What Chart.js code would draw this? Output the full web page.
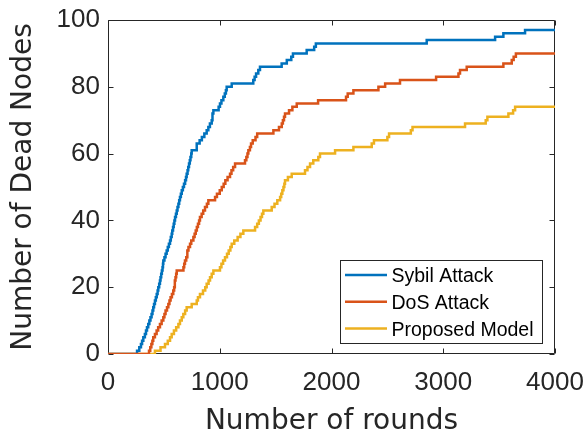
<!DOCTYPE html>
<html>
<head>
<meta charset="utf-8">
<script src="https://cdn.jsdelivr.net/npm/chart.js@4.4.1/dist/chart.umd.min.js"></script>
<style>
  html, body { margin: 0; padding: 0; background: #fff; }
  #wrap { width: 585px; height: 439px; }
</style>
</head>
<body>
<div id="wrap"><canvas id="c" width="585" height="439"></canvas></div>
<script>
// Series names and colours
const seriesLabels = ['Sybil Attack', 'DoS Attack', 'Proposed Model'];
const seriesColors = ['#0072BD', '#D95319', '#EDB120'];

// Axis ticks
const xTicks = [0, 1000, 2000, 3000, 4000];
const yTicks = [0, 20, 40, 60, 80, 100];

// Sybil attack: round at which the dead-node count changes, and the new count
const sybilRounds = [0,260,280,295,305,316,330,340,349,360,370,380,390,398,405,412,420,428,436,444,
  450,458,465,470,476,482,488,492,495,505,515,525,535,545,555,562,570,575,582,588,
  594,600,608,615,622,630,637,644,652,660,670,680,690,698,704,712,718,725,732,738,
  745,749,794,820,840,862,883,898,912,928,935,943,990,1002,1015,1032,1045,1055,1062,1107,
  1300,1312,1325,1345,1360,1554,1600,1640,1655,1778,1845,1860,2852,3464,3538,3732,4000];
const sybilDead = [0,1,2,3,4,5,6,7,8,9,10,11,12,13,14,15,16,17,18,19,
  20,21,22,23,24,25,26,27,28,29,30,31,32,33,34,35,36,37,38,39,
  40,41,42,43,44,45,46,47,48,49,50,51,52,53,54,55,56,57,58,59,
  60,61,63,64,65,66,67,68,69,70,72,73,74,75,76,77,78,79,80,81,
  82,83,84,85,86,87,88,89,90,91,92,93,94,95,96,97,97];

// DoS attack
const dosRounds = [0,367,378,388,397,405,420,435,449,465,480,495,505,515,528,540,550,560,572,584,
  592,598,604,610,615,675,682,689,700,710,720,734,745,764,775,785,795,805,815,823,
  838,852,868,885,898,958,975,1000,1018,1035,1050,1070,1092,1105,1120,1137,1226,1238,1248,1256,
  1270,1280,1295,1320,1335,1480,1530,1555,1565,1575,1584,1620,1650,1689,1880,2130,2145,2196,2420,2480,
  2613,2936,3136,3150,3210,3538,3613,3630,3650,4000];
const dosDead = [0,1,2,3,4,5,6,7,8,9,10,11,12,13,14,15,16,17,18,19,
  20,22,23,24,25,26,27,28,29,31,32,33,34,35,36,37,38,39,40,41,
  42,43,44,45,46,47,48,49,50,51,52,53,54,55,56,57,58,59,60,61,
  62,63,64,65,66,67,68,69,70,71,72,73,74,75,76,77,78,79,80,81,
  82,83,84,85,86,87,88,89,90,90];

// Proposed model
const proposedRounds = [0,420,470,510,535,555,570,590,610,630,644,660,674,690,704,749,794,805,823,850,
  870,883,900,913,928,943,1002,1015,1030,1047,1065,1080,1095,1107,1130,1160,1185,1211,1316,1335,
  1350,1365,1378,1390,1465,1490,1515,1540,1550,1560,1570,1578,1584,1610,1644,1763,1785,1808,1837,1882,
  1897,2032,2196,2360,2380,2500,2515,2710,2725,3195,3380,3395,3583,3625,3643,4000];
const proposedDead = [0,1,2,3,4,5,6,7,8,9,10,11,12,13,14,15,16,17,18,19,
  20,21,22,23,24,25,26,27,28,29,30,31,32,33,34,35,36,37,38,39,
  40,41,42,43,44,45,46,47,48,49,50,51,52,53,54,55,56,57,58,59,
  60,61,62,63,64,65,66,67,68,69,70,71,72,73,74,74];

const toPoints = (xs, ys) => xs.map((x, i) => ({ x: x, y: ys[i] }));

const AXIS_COLOR = '#262626';
const TICK_FONT = '"Liberation Sans", Arial, sans-serif';
const TITLE_FONT = '"DejaVu Sans", sans-serif';

// Axes box with inward tick marks on all four sides
const axesFrame = {
  id: 'axesFrame',
  beforeDatasetsDraw(chart) {
    const { ctx, chartArea: a, scales } = chart;
    const L = Math.round(a.left) + 0.5, R = Math.round(a.right) - 0.5;
    const T = Math.round(a.top) + 0.5, B = Math.round(a.bottom) - 0.5;
    const len = 5;
    ctx.save();
    ctx.strokeStyle = AXIS_COLOR;
    ctx.lineWidth = 1;
    ctx.beginPath();
    ctx.rect(L, T, R - L, B - T);
    scales.x.ticks.forEach(t => {
      const px = Math.round(scales.x.getPixelForValue(t.value)) + 0.5;
      ctx.moveTo(px, B); ctx.lineTo(px, B - len);
      ctx.moveTo(px, T); ctx.lineTo(px, T + len);
    });
    scales.y.ticks.forEach(t => {
      const py = Math.round(scales.y.getPixelForValue(t.value)) + 0.5;
      ctx.moveTo(L, py); ctx.lineTo(L + len, py);
      ctx.moveTo(R, py); ctx.lineTo(R - len, py);
    });
    ctx.stroke();
    ctx.restore();
  }
};

// Boxed legend in the lower right corner of the plot
const boxLegend = {
  id: 'boxLegend',
  afterDatasetsDraw(chart) {
    const { ctx } = chart;
    const bx = 340.5, by = 260.5, bw = 202, bh = 83;
    ctx.save();
    ctx.fillStyle = '#ffffff';
    ctx.fillRect(bx, by, bw, bh);
    ctx.strokeStyle = AXIS_COLOR;
    ctx.lineWidth = 1;
    ctx.strokeRect(bx, by, bw, bh);
    ctx.font = '19.5px ' + TICK_FONT;
    ctx.textBaseline = 'alphabetic';
    ctx.textAlign = 'left';
    chart.data.datasets.forEach((ds, i) => {
      const ly = 275 + i * 26.8;
      ctx.strokeStyle = ds.borderColor;
      ctx.lineWidth = 2.5;
      ctx.beginPath();
      ctx.moveTo(345, ly);
      ctx.lineTo(387, ly);
      ctx.stroke();
      ctx.fillStyle = '#000000';
      ctx.fillText(ds.label, 391.5, 282.3 + i * 26.8);
    });
    ctx.restore();
  }
};

const seriesData = [
  toPoints(sybilRounds, sybilDead),
  toPoints(dosRounds, dosDead),
  toPoints(proposedRounds, proposedDead)
];
const drawOrder = [1, 0, 2];

new Chart(document.getElementById('c'), {
  type: 'line',
  data: {
    datasets: seriesLabels.map((label, i) => ({
      label: label,
      data: seriesData[i],
      borderColor: seriesColors[i],
      backgroundColor: seriesColors[i],
      borderWidth: 2.5,
      stepped: true,
      pointRadius: 0,
      fill: false,
      borderJoinStyle: 'miter',
      borderCapStyle: 'butt',
      order: drawOrder[i]
    }))
  },
  options: {
    responsive: false,
    devicePixelRatio: 1,
    animation: false,
    layout: { padding: { left: 0, right: 30, top: 20, bottom: 0 } },
    plugins: {
      legend: { display: false },
      tooltip: { enabled: false }
    },
    scales: {
      x: {
        type: 'linear',
        min: 0, max: 4000,
        afterBuildTicks: s => { s.ticks = xTicks.map(v => ({ value: v })); },
        afterFit: s => { s.height = 85; },
        // grid hidden; its tick length only spaces the labels off the axis
        grid: { display: false, drawTicks: true, tickLength: 16 },
        border: { display: false },
        ticks: {
          color: AXIS_COLOR,
          padding: 0,
          maxRotation: 0,
          font: { family: TICK_FONT, size: 26, lineHeight: 1 },
          callback: v => String(v)
        },
        title: {
          display: true,
          text: 'Number of rounds',
          color: AXIS_COLOR,
          font: { family: TITLE_FONT, size: 28, lineHeight: 1 },
          padding: { top: 0, bottom: 3 }
        }
      },
      y: {
        type: 'linear',
        min: 0, max: 100,
        afterBuildTicks: s => { s.ticks = yTicks.map(v => ({ value: v })); },
        afterFit: s => { s.width = 108; },
        grid: { display: false, drawTicks: true, tickLength: 8 },
        border: { display: false },
        ticks: {
          color: AXIS_COLOR,
          padding: 0,
          font: { family: TICK_FONT, size: 26, lineHeight: 1 },
          callback: v => String(v)
        },
        title: {
          display: true,
          text: 'Number of Dead Nodes',
          color: AXIS_COLOR,
          font: { family: TITLE_FONT, size: 28, lineHeight: 1 },
          padding: { top: 10, bottom: 0 }
        }
      }
    }
  },
  plugins: [axesFrame, boxLegend]
});
</script>
</body>
</html>
